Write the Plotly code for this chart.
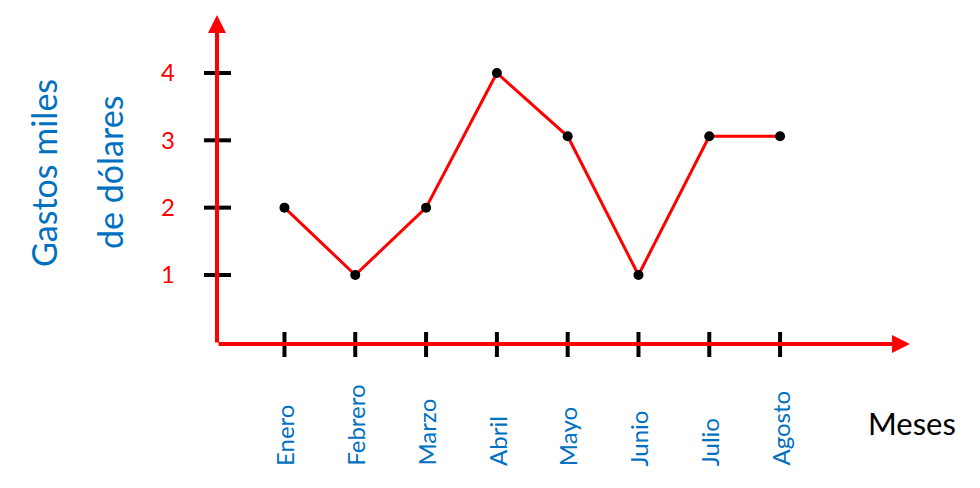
import plotly.graph_objects as go

months = ["Enero", "Febrero", "Marzo", "Abril", "Mayo", "Junio", "Julio", "Agosto"]
gastos = [2, 1, 2, 4, 3.06, 1, 3.06, 3.06]
y_ticks = [1, 2, 3, 4]
y_title_lines = ["Gastos miles", "de dólares"]
x_title = "Meses"

RED = "#FF0000"
BLUE = "#0070C0"
FONT = "Lato"

fig = go.Figure()
fig.add_trace(go.Scatter(
    x=months, y=gastos, mode="lines+markers",
    line=dict(color=RED, width=3),
    marker=dict(color="black", size=10),
    hoverinfo="skip", showlegend=False,
))

shapes = []
for v in y_ticks:
    shapes.append(dict(type="line", xref="paper", yref="y", xsizemode="pixel", xanchor=0,
                       x0=-13, x1=14, y0=v, y1=v, line=dict(color="black", width=4)))
for m in months:
    shapes.append(dict(type="line", xref="x", yref="paper", ysizemode="pixel", yanchor=0,
                       x0=m, x1=m, y0=-13, y1=12, line=dict(color="black", width=4)))

annotations = []
# axes with arrows
annotations.append(dict(xref="paper", yref="paper", x=0, y=1, axref="pixel", ayref="pixel",
                        ax=0, ay=329, showarrow=True, arrowhead=2, arrowsize=0.9,
                        arrowwidth=4, arrowcolor=RED, text=""))
annotations.append(dict(xref="paper", yref="paper", x=1, y=0, axref="pixel", ayref="pixel",
                        ax=-693, ay=0, showarrow=True, arrowhead=2, arrowsize=0.9,
                        arrowwidth=4, arrowcolor=RED, text=""))
for m in months:
    annotations.append(dict(xref="x", yref="paper", x=m, y=0, yshift=-124,
                            xanchor="center", yanchor="bottom", textangle=-90,
                            text=m, showarrow=False,
                            font=dict(family=FONT, size=24, color=BLUE)))
for i, line in enumerate(y_title_lines):
    annotations.append(dict(xref="paper", yref="paper", x=0, y=0.52, xshift=-173 + 66 * i,
                            xanchor="center", yanchor="middle", textangle=-90,
                            text=line, showarrow=False,
                            font=dict(family=FONT, size=34, color=BLUE)))
annotations.append(dict(xref="paper", yref="paper", x=1, y=0, xshift=2, yshift=-79,
                        xanchor="center", yanchor="middle", text=x_title, showarrow=False,
                        font=dict(family=FONT, size=31, color="black")))

fig.update_layout(
    width=980, height=488,
    margin=dict(l=209, r=78, t=7, b=152),
    paper_bgcolor="white", plot_bgcolor="white",
    xaxis=dict(type="category", range=[-0.953, 8.835], showgrid=False, zeroline=False,
               showline=False, showticklabels=False, ticks="", fixedrange=True),
    yaxis=dict(range=[-0.025, 4.861], showgrid=False, zeroline=False, showline=False,
               tickvals=y_ticks, ticks="", ticklabelstandoff=41,
               tickfont=dict(family=FONT, size=24, color=RED), fixedrange=True),
    shapes=shapes, annotations=annotations,
)

fig.write_html("out.html")
